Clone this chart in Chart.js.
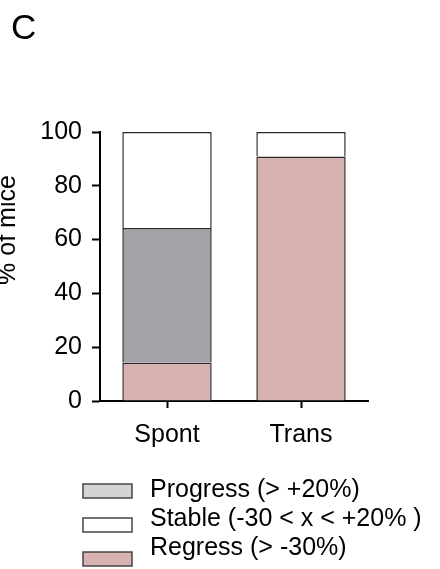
<!DOCTYPE html>
<html>
<head>
<meta charset="utf-8">
<script src="https://cdn.jsdelivr.net/npm/chart.js@4"></script>
<style>
  html, body { margin: 0; padding: 0; background: #fff; }
  canvas { display: block; }
</style>
</head>
<body>
<canvas id="c" width="440" height="569"></canvas>
<script>
// Outcome groups and the share of mice (%) in each response class
const groups = ['Spont', 'Trans'];
const regress = [14.3, 90.9];
const progress = [50.0, 0];
const stable = [35.7, 9.1];
const yTicks = [0, 20, 40, 60, 80, 100];

const legendItems = [
  { text: 'Progress (> +20%)', fill: '#d4d4d4' },
  { text: 'Stable (-30 < x < +20% )', fill: '#ffffff' },
  { text: 'Regress (> -30%)', fill: '#d8b1b1' }
];

const FONT = '"Liberation Sans", Arial, Helvetica, sans-serif';

// Panel letter, y-axis title and the stacked legend under the chart
const decorations = {
  id: 'decorations',
  afterDraw(chart) {
    const ctx = chart.ctx;
    ctx.save();
    ctx.fillStyle = '#000';
    ctx.textAlign = 'left';
    ctx.textBaseline = 'alphabetic';
    ctx.font = '35px ' + FONT;
    ctx.fillText('C', 11, 39);

    ctx.save();
    ctx.translate(14.5, 230);
    ctx.rotate(-Math.PI / 2);
    ctx.textAlign = 'center';
    ctx.font = '25px ' + FONT;
    ctx.fillText('% of mice', 0, 0);
    ctx.restore();

    ctx.font = '25px ' + FONT;
    legendItems.forEach((item, i) => {
      const boxTop = 484 + i * 34;
      ctx.fillStyle = item.fill;
      ctx.fillRect(83, boxTop, 49, 14);
      ctx.strokeStyle = '#444';
      ctx.lineWidth = 1.5;
      ctx.strokeRect(83, boxTop, 49, 14);
      ctx.fillStyle = '#000';
      ctx.fillText(item.text, 150, 497 + i * 29);
    });
    ctx.restore();
  }
};

// Each segment outlines its sides and top; the segment below supplies the shared edge
const barStyle = {
  borderColor: '#2a2a2a',
  borderWidth: 1.5,
  borderSkipped: 'start',
  barPercentage: 0.667,
  categoryPercentage: 1
};

new Chart(document.getElementById('c'), {
  type: 'bar',
  data: {
    labels: groups,
    datasets: [
      Object.assign({ label: 'Regress (> -30%)', data: regress, backgroundColor: '#d8b1b1' }, barStyle),
      Object.assign({ label: 'Progress (> +20%)', data: progress, backgroundColor: '#a3a3a7' }, barStyle),
      Object.assign({ label: 'Stable (-30 < x < +20% )', data: stable, backgroundColor: '#ffffff' }, barStyle)
    ]
  },
  options: {
    responsive: false,
    animation: false,
    layout: { padding: { left: 0, right: 72, top: 132, bottom: 108 } },
    plugins: {
      legend: { display: false },
      tooltip: { enabled: false }
    },
    scales: {
      x: {
        stacked: true,
        afterFit: s => { s.height = 60; },
        grid: {
          offset: false,
          drawOnChartArea: false,
          drawTicks: true,
          tickLength: 7,
          tickWidth: 2,
          tickColor: '#000'
        },
        border: { display: true, color: '#000', width: 2 },
        ticks: {
          color: '#000',
          font: { family: FONT, size: 25 },
          padding: 12,
          maxRotation: 0
        }
      },
      y: {
        stacked: true,
        min: 0,
        max: 100,
        afterFit: s => { s.width = 100; },
        afterBuildTicks: s => { s.ticks = yTicks.map(v => ({ value: v })); },
        grid: {
          drawOnChartArea: false,
          drawTicks: true,
          tickLength: 8,
          tickWidth: 2,
          tickColor: '#000'
        },
        border: { display: true, color: '#000', width: 2 },
        ticks: {
          color: '#000',
          font: { family: FONT, size: 25 },
          padding: 10
        }
      }
    }
  },
  plugins: [decorations]
});
</script>
</body>
</html>
